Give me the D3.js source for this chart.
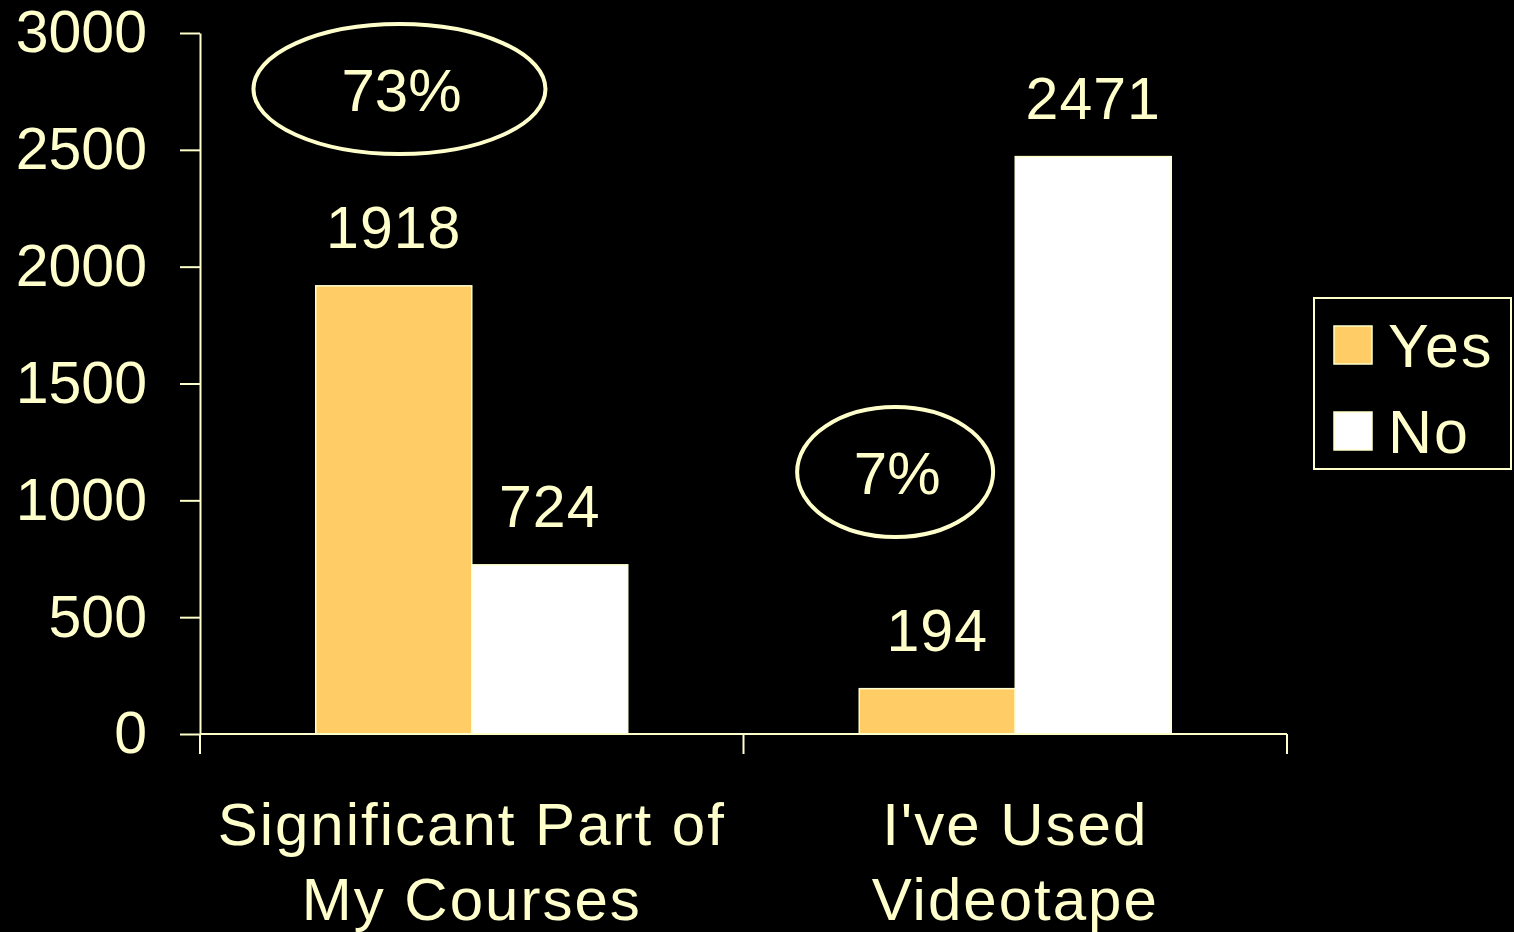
<!DOCTYPE html>
<html>
<head>
<meta charset="utf-8">
<script src="https://cdn.jsdelivr.net/npm/d3@7"></script>
<style>
  html, body { margin: 0; padding: 0; background: #000; }
  svg { display: block; }
  text { font-family: "Liberation Sans", Arial, sans-serif; fill: #FFFFCC; }
</style>
</head>
<body>
<svg id="chart"></svg>
<script>
var width = 1514;
var height = 932;
var margin = {left: 200, right: 227, top: 33, bottom: 198};

// data
var categories = ["Significant Part of|My Courses", "I've Used|Videotape"];
var seriesNames = ["Yes", "No"];
var yesValues = [1918, 194];
var noValues = [724, 2471];
var yTicks = [0, 500, 1000, 1500, 2000, 2500, 3000];
// circled percentages: category, x position inside the group (fraction), y in data units
var notes = [
    {cat: 0, text: "73%", fx: 0.367, v: 2760, rx: 146, ry: 65},
    {cat: 1, text: "7%", fx: 0.279, v: 1121, rx: 98, ry: 65}
];

var colors = {Yes: "#FFCC66", No: "#FFFFFF"};
var fg = "#FFFFCC";

var rows = categories.map(function (c, i) {
    return {cat: c, Yes: yesValues[i], No: noValues[i]};
});

var svg = d3.select("#chart").attr("width", width).attr("height", height);

var x0 = d3.scaleBand()
    .domain(categories)
    .range([margin.left, width - margin.right])
    .paddingInner(0).paddingOuter(0);

var x1 = d3.scaleBand()
    .domain(seriesNames)
    .range([0, x0.bandwidth()])
    .paddingInner(0).paddingOuter(0.742);

var y = d3.scaleLinear()
    .domain([0, 3000])
    .range([height - margin.bottom, margin.top]);
var y0 = y(0);

// bars
var groups = svg.selectAll("g.grp")
    .data(rows)
    .enter().append("g")
    .attr("class", "grp")
    .attr("transform", function (d) { return "translate(" + x0(d.cat) + ",0)"; });

groups.selectAll("rect")
    .data(function (d) {
        return seriesNames.map(function (s) { return {key: s, value: d[s]}; });
    })
    .enter().append("rect")
    .attr("x", function (d) { return x1(d.key); })
    .attr("y", function (d) { return y(d.value); })
    .attr("width", x1.bandwidth())
    .attr("height", function (d) { return y0 - y(d.value); })
    .attr("fill", function (d) { return colors[d.key]; })
    .attr("stroke", fg)
    .attr("stroke-width", 1.5);

groups.selectAll("text.val")
    .data(function (d) {
        return seriesNames.map(function (s) { return {key: s, value: d[s]}; });
    })
    .enter().append("text")
    .attr("class", "val")
    .attr("x", function (d) { return x1(d.key) + x1.bandwidth() / 2; })
    .attr("y", function (d) { return y(d.value) - 38; })
    .attr("text-anchor", "middle")
    .style("font-size", "59px")
    .style("letter-spacing", "1px")
    .text(function (d) { return d.value; });

// y axis
var yAxis = d3.axisLeft(y)
    .tickValues(yTicks)
    .tickFormat(d3.format("d"))
    .tickSize(20)
    .tickSizeOuter(0)
    .tickPadding(33);

var yg = svg.append("g")
    .attr("transform", "translate(" + margin.left + ",0)")
    .call(yAxis);
yg.select(".domain").attr("stroke", fg).attr("stroke-width", 2);
yg.selectAll(".tick line").attr("stroke", fg).attr("stroke-width", 2);
yg.selectAll(".tick text")
    .attr("fill", fg)
    .style("font-family", "'Liberation Sans', Arial, sans-serif")
    .style("font-size", "59px");

// x axis: line with ticks on band edges
var xEdges = categories.map(function (c) { return x0(c); }).concat([x0.range()[1]]);
var xg = svg.append("g");
xg.append("line")
    .attr("x1", x0.range()[0]).attr("x2", x0.range()[1])
    .attr("y1", y0).attr("y2", y0)
    .attr("stroke", fg).attr("stroke-width", 2);
xg.selectAll("line.tk")
    .data(xEdges)
    .enter().append("line")
    .attr("class", "tk")
    .attr("x1", function (d) { return d; }).attr("x2", function (d) { return d; })
    .attr("y1", y0).attr("y2", y0 + 20)
    .attr("stroke", fg).attr("stroke-width", 2);

xg.selectAll("text.cat")
    .data(categories)
    .enter().append("text")
    .attr("class", "cat")
    .attr("text-anchor", "middle")
    .attr("x", function (d) { return x0(d) + x0.bandwidth() / 2; })
    .attr("y", y0 + 111)
    .style("font-size", "60px")
    .style("letter-spacing", "2px")
    .each(function (d) {
        var lines = d.split("|");
        var t = d3.select(this);
        lines.forEach(function (l, i) {
            t.append("tspan")
                .attr("x", t.attr("x"))
                .attr("dy", i === 0 ? 0 : 75)
                .text(l);
        });
    });

// circled percentages
var ng = svg.selectAll("g.note")
    .data(notes)
    .enter().append("g")
    .attr("class", "note")
    .attr("transform", function (d) {
        var c = categories[d.cat];
        return "translate(" + (x0(c) + d.fx * x0.bandwidth()) + "," + y(d.v) + ")";
    });
ng.append("ellipse")
    .attr("rx", function (d) { return d.rx; })
    .attr("ry", function (d) { return d.ry; })
    .attr("fill", "none")
    .attr("stroke", fg)
    .attr("stroke-width", 4);
ng.append("text")
    .attr("text-anchor", "middle")
    .attr("x", 2)
    .attr("y", 22)
    .style("font-size", "60px")
    .text(function (d) { return d.text; });

// legend
var legend = svg.append("g").attr("transform", "translate(1314,298)");
legend.append("rect")
    .attr("width", 197).attr("height", 171)
    .attr("fill", "#000")
    .attr("stroke", fg).attr("stroke-width", 2);
var li = legend.selectAll("g.li")
    .data(seriesNames)
    .enter().append("g")
    .attr("class", "li")
    .attr("transform", function (d, i) { return "translate(20," + (28 + i * 86) + ")"; });
li.append("rect")
    .attr("width", 38).attr("height", 38)
    .attr("fill", function (d) { return colors[d]; })
    .attr("stroke", fg).attr("stroke-width", 1.5);
li.append("text")
    .attr("x", 54)
    .attr("y", 41)
    .style("font-size", "61px")
    .style("letter-spacing", "2px")
    .text(function (d) { return d; });
</script>
</body>
</html>
